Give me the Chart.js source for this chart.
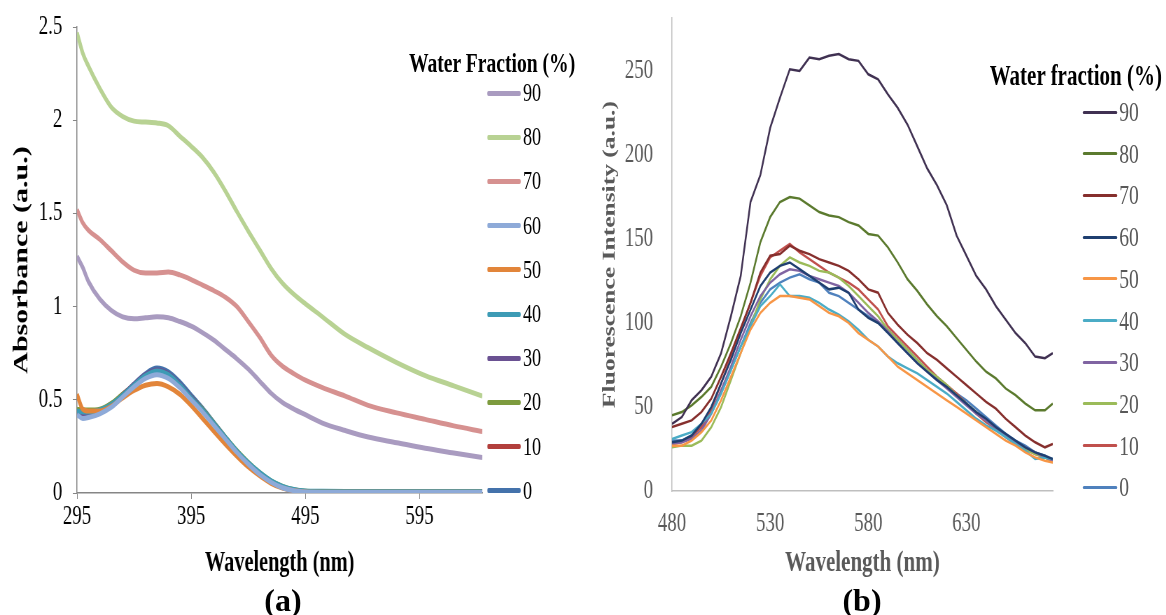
<!DOCTYPE html>
<html lang="en">
<head>
    <meta charset="UTF-8">
    <title>Absorbance and Fluorescence vs Water Fraction</title>
    <script src="https://cdn.jsdelivr.net/npm/chart.js"></script>
    <style>
        body {
            margin: 0;
            padding: 0;
            background: #fff;
            overflow: hidden;
            font-family: "Liberation Serif", "Times New Roman", serif;
        }
        /* the source figure is horizontally squeezed, so the whole chart block is too */
        #wrap {
            position: absolute;
            left: 0;
            top: 0;
            width: 1666px;
            height: 615px;
            transform: scaleX(0.7);
            transform-origin: 0 0;
        }
        canvas { position: absolute; top: 0; }
        #absChart { left: 0; }
        #flChart { left: 856px; }
        .legend-title {
            position: absolute;
            font-weight: bold;
            color: #000;
            white-space: nowrap;
            transform: translate(-50%, -50%);
        }
        .legend-item {
            position: absolute;
            height: 30px;
            display: flex;
            align-items: center;
            white-space: nowrap;
        }
        .legend-item span.line { display: inline-block; border-radius: 2px; }
        .tag {
            position: absolute;
            top: 600px;
            font-weight: bold;
            font-size: 32px;
            color: #000;
            transform: translate(-50%, -50%);
        }
    </style>
</head>
<body>
    <div id="wrap">
        <canvas id="absChart" width="700" height="615"></canvas>
        <canvas id="flChart" width="660" height="615"></canvas>
        <div id="absLegend"></div>
        <div id="flLegend"></div>
    </div>
    <div class="tag" style="left:283px">(a)</div>
    <div class="tag" style="left:862px">(b)</div>

    <script>
        const FONT = '"Liberation Serif", "Times New Roman", serif';

        // ---- panel (a): absorbance ----
        const absLabels = ["90", "80", "70", "60", "50", "40", "30", "20", "10", "0"];
        const absColors = ["#a99bc0", "#b8d293", "#d69190", "#8eaad8", "#e2853a", "#3d9bb5", "#6a5192", "#7d9b3e", "#b23f3c", "#4472ab"];
        const absXTicks = [295, 395, 495, 595];
        const absYTicks = [0, 0.5, 1, 1.5, 2, 2.5];
        const absWave = [295, 300, 305, 315, 325, 335, 345, 355, 365, 375, 385, 395, 405, 415, 425, 435, 445, 455, 465, 475, 485, 495, 510, 530, 550, 575, 600, 625, 650];

        const abs90 = [1.27, 1.21, 1.135, 1.04, 0.98, 0.945, 0.935, 0.94, 0.945, 0.94, 0.92, 0.895, 0.86, 0.82, 0.77, 0.72, 0.665, 0.6, 0.535, 0.485, 0.45, 0.42, 0.375, 0.335, 0.30, 0.27, 0.24, 0.215, 0.19];
        const abs80 = [2.47, 2.36, 2.29, 2.17, 2.07, 2.02, 1.995, 1.99, 1.985, 1.97, 1.915, 1.86, 1.80, 1.72, 1.62, 1.51, 1.405, 1.305, 1.205, 1.125, 1.065, 1.015, 0.945, 0.85, 0.78, 0.70, 0.63, 0.575, 0.52];
        const abs70 = [1.52, 1.45, 1.41, 1.36, 1.30, 1.24, 1.195, 1.18, 1.18, 1.185, 1.17, 1.145, 1.115, 1.085, 1.05, 1.0, 0.92, 0.835, 0.74, 0.68, 0.64, 0.605, 0.565, 0.52, 0.47, 0.43, 0.395, 0.36, 0.33];
        const abs60 = [0.42, 0.40, 0.405, 0.425, 0.46, 0.515, 0.57, 0.615, 0.635, 0.615, 0.565, 0.50, 0.435, 0.362, 0.29, 0.218, 0.155, 0.10, 0.058, 0.028, 0.012, 0.005, 0.003, 0.003, 0.003, 0.003, 0.003, 0.003, 0.003];
        const abs50 = [0.53, 0.45, 0.44, 0.44, 0.465, 0.51, 0.55, 0.578, 0.588, 0.57, 0.53, 0.47, 0.40, 0.33, 0.262, 0.198, 0.14, 0.092, 0.052, 0.026, 0.012, 0.006, 0.004, 0.004, 0.004, 0.004, 0.004, 0.004, 0.004];
        const abs40 = [0.44, 0.435, 0.435, 0.445, 0.475, 0.525, 0.58, 0.63, 0.655, 0.635, 0.58, 0.51, 0.445, 0.372, 0.298, 0.226, 0.163, 0.11, 0.066, 0.036, 0.019, 0.011, 0.009, 0.008, 0.008, 0.008, 0.008, 0.008, 0.008];
        const abs30 = [0.43, 0.42, 0.42, 0.435, 0.47, 0.525, 0.585, 0.635, 0.66, 0.64, 0.585, 0.515, 0.445, 0.37, 0.295, 0.222, 0.158, 0.104, 0.06, 0.03, 0.013, 0.006, 0.004, 0.003, 0.003, 0.003, 0.003, 0.003, 0.003];
        const abs20 = [0.45, 0.445, 0.445, 0.45, 0.48, 0.53, 0.58, 0.625, 0.65, 0.63, 0.58, 0.515, 0.45, 0.375, 0.30, 0.228, 0.165, 0.11, 0.065, 0.035, 0.018, 0.01, 0.008, 0.007, 0.007, 0.007, 0.007, 0.007, 0.007];
        const abs10 = [0.44, 0.43, 0.43, 0.44, 0.475, 0.53, 0.58, 0.63, 0.655, 0.635, 0.58, 0.51, 0.445, 0.37, 0.295, 0.22, 0.155, 0.10, 0.058, 0.03, 0.014, 0.008, 0.006, 0.006, 0.006, 0.006, 0.006, 0.006, 0.006];
        const abs0 = [0.44, 0.43, 0.43, 0.44, 0.48, 0.52, 0.585, 0.64, 0.67, 0.65, 0.595, 0.525, 0.455, 0.378, 0.30, 0.225, 0.16, 0.105, 0.06, 0.03, 0.013, 0.006, 0.003, 0.002, 0.002, 0.002, 0.002, 0.002, 0.002];
        const absSeries = [abs90, abs80, abs70, abs60, abs50, abs40, abs30, abs20, abs10, abs0];

        // ---- panel (b): fluorescence ----
        const flLabels = ["90", "80", "70", "60", "50", "40", "30", "20", "10", "0"];
        const flColors = ["#403152", "#5b7a2e", "#862f2d", "#1f3f70", "#f79646", "#4bacc6", "#8064a2", "#9bbb59", "#c0504d", "#4f81bd"];
        const flXTicks = [480, 530, 580, 630];
        const flYTicks = [0, 50, 100, 150, 200, 250];
        const flWave = [480, 485, 490, 495, 500, 505, 510, 515, 520, 525, 530, 535, 540, 545, 550, 555, 560, 565, 570, 575, 580, 585, 590, 595, 600, 605, 610, 615, 620, 625, 630, 635, 640, 645, 650, 655, 660, 665, 670, 674];

        const fl90 = [40, 44, 54, 60, 68, 82, 104, 128, 172, 188, 216, 234, 251, 250, 258, 257, 259, 260, 257, 256, 248, 245, 236, 228, 218, 205, 192, 182, 170, 152, 140, 128, 120, 110, 102, 94, 88, 80, 79, 82];
        const fl80 = [45, 47, 51, 56, 62, 74, 88, 104, 124, 148, 163, 172, 175, 174, 170, 166, 164, 163, 160, 158, 153, 152, 145, 136, 126, 119, 111, 104, 98, 91, 84, 77, 71, 67, 61, 57, 52, 48, 48, 52];
        const fl70 = [38, 40, 42, 47, 55, 68, 82, 97, 112, 130, 140, 141, 146, 143, 141, 138, 136, 134, 131, 126, 120, 118, 106, 99, 93, 88, 82, 78, 73, 68, 63, 58, 53, 49, 43, 38, 33, 29, 26, 28];
        const fl60 = [29, 30, 33, 40, 50, 64, 78, 94, 108, 122, 130, 134, 136, 132, 128, 124, 120, 121, 118, 108, 103, 100, 94, 88, 82, 76, 71, 66, 62, 57, 52, 47, 43, 38, 34, 30, 26, 23, 21, 19];
        const fl50 = [27, 27, 30, 35, 42, 54, 68, 82, 96, 106, 112, 116, 116, 115, 114, 110, 106, 104, 100, 94, 90, 86, 80, 74, 70, 66, 62, 58, 54, 50, 46, 42, 38, 34, 30, 27, 23, 20, 18, 17];
        const fl40 = [31, 33, 35, 40, 46, 58, 72, 86, 98, 110, 116, 123, 116, 116, 115, 112, 108, 105, 101, 96, 90, 86, 80, 76, 73, 70, 66, 62, 58, 53, 48, 43, 39, 36, 32, 28, 24, 19, 20, 19];
        const fl30 = [28, 29, 31, 36, 46, 60, 74, 90, 104, 116, 124, 129, 132, 131, 128, 126, 124, 122, 118, 112, 106, 101, 95, 88, 82, 76, 71, 66, 61, 56, 51, 46, 42, 37, 33, 29, 26, 23, 20, 18];
        const fl20 = [26, 27, 27, 30, 38, 50, 66, 82, 98, 114, 126, 134, 139, 136, 134, 131, 130, 127, 122, 116, 110, 104, 96, 90, 84, 78, 72, 68, 63, 57, 52, 47, 42, 37, 33, 29, 25, 22, 20, 17];
        const fl10 = [28, 29, 32, 38, 48, 64, 80, 96, 112, 128, 139, 143, 147, 142, 138, 134, 130, 127, 124, 120, 114, 108, 98, 92, 86, 80, 74, 68, 63, 58, 52, 46, 41, 37, 32, 28, 25, 22, 20, 18];
        const fl0 = [30, 30, 33, 38, 46, 58, 72, 86, 100, 112, 120, 124, 127, 129, 126, 124, 118, 116, 112, 108, 104, 100, 96, 90, 84, 78, 72, 67, 62, 58, 54, 49, 44, 39, 34, 30, 27, 23, 21, 18];
        const flSeries = [fl90, fl80, fl70, fl60, fl50, fl40, fl30, fl20, fl10, fl0];

        function makeDatasets(series, wave, labels, colors, width, smooth) {
            return series.map((vals, i) => ({
                label: labels[i],
                data: vals.map((v, j) => ({ x: wave[j], y: v })),
                borderColor: colors[i],
                backgroundColor: colors[i],
                borderWidth: width,
                pointRadius: 0,
                cubicInterpolationMode: smooth ? "monotone" : "default",
                tension: 0,
                fill: false
            }));
        }

        function fixedTicks(list) {
            return scale => { scale.ticks = list.map(v => ({ value: v })); };
        }

        // y scale box: fixed width, and no extra top/bottom padding from tick padding
        function fitY(width) {
            return s => { s.width = width; s.paddingTop = 0; s.paddingBottom = 0; };
        }

        // Panel (a)
        new Chart(document.getElementById("absChart").getContext("2d"), {
            type: "line",
            data: { datasets: makeDatasets(absSeries, absWave, absLabels, absColors, 5, true) },
            options: {
                responsive: false,
                animation: false,
                layout: { padding: { left: 13, right: 11, top: 27, bottom: 34 } },
                plugins: { legend: { display: false }, tooltip: { enabled: false } },
                scales: {
                    x: {
                        type: "linear",
                        min: 295,
                        max: 650,
                        afterBuildTicks: fixedTicks(absXTicks),
                        afterFit: s => { s.height = 88; },
                        grid: { drawOnChartArea: false, drawTicks: true, tickLength: 6, color: "#868686" },
                        border: { color: "#868686", width: 1.5 },
                        ticks: { font: { family: FONT, size: 27 }, color: "#000", padding: 2, maxRotation: 0, autoSkip: false },
                        title: { display: true, text: "Wavelength (nm)", font: { family: FONT, size: 29, weight: "bold" }, color: "#000", padding: 0 }
                    },
                    y: {
                        min: 0,
                        max: 2.5,
                        afterBuildTicks: fixedTicks(absYTicks),
                        afterFit: fitY(97),
                        grid: { drawOnChartArea: false, drawTicks: true, tickLength: 6, color: "#868686" },
                        border: { color: "#868686", width: 1.5 },
                        ticks: { font: { family: FONT, size: 27 }, color: "#000", padding: 15, callback: v => String(v) },
                        title: { display: true, text: "Absorbance (a.u.)", font: { family: FONT, size: 30, weight: "bold" }, color: "#000", padding: 0 }
                    }
                }
            }
        });

        // Panel (b)
        new Chart(document.getElementById("flChart").getContext("2d"), {
            type: "line",
            data: { datasets: makeDatasets(flSeries, flWave, flLabels, flColors, 2.5, false) },
            options: {
                responsive: false,
                animation: false,
                layout: { padding: { left: 0, right: 12, top: 18, bottom: 34 } },
                plugins: { legend: { display: false }, tooltip: { enabled: false } },
                scales: {
                    x: {
                        type: "linear",
                        min: 480,
                        max: 674,
                        afterBuildTicks: fixedTicks(flXTicks),
                        afterFit: s => { s.height = 90; },
                        grid: { drawOnChartArea: false, drawTicks: false },
                        border: { color: "#bfbfbf", width: 1.5 },
                        ticks: { font: { family: FONT, size: 27 }, color: "#595959", padding: 17, maxRotation: 0, autoSkip: false },
                        title: { display: true, text: "Wavelength (nm)", font: { family: FONT, size: 30, weight: "bold" }, color: "#595959", padding: 0 }
                    },
                    y: {
                        min: 0,
                        max: 281.5,
                        afterBuildTicks: fixedTicks(flYTicks),
                        afterFit: fitY(104),
                        grid: { drawOnChartArea: false, drawTicks: false },
                        border: { color: "#bfbfbf", width: 1.5 },
                        ticks: { font: { family: FONT, size: 27 }, color: "#595959", padding: 27, callback: v => String(v) },
                        title: { display: true, text: "Fluorescence Intensity (a.u.)", font: { family: FONT, size: 25.5, weight: "bold" }, color: "#595959", padding: 0 }
                    }
                }
            }
        });

        // HTML legends (vertical list with a title, like the source)
        function buildLegend(el, title, titleX, titleY, titleSize, labels, colors, lineX, lineW, lineH, textSize, textColor, firstY, stepY) {
            const t = document.createElement("div");
            t.className = "legend-title";
            t.textContent = title;
            t.style.left = titleX + "px";
            t.style.top = titleY + "px";
            t.style.fontSize = titleSize + "px";
            el.appendChild(t);
            labels.forEach((lab, i) => {
                const item = document.createElement("div");
                item.className = "legend-item";
                item.style.left = lineX + "px";
                item.style.top = (firstY + stepY * i - 15) + "px";
                const line = document.createElement("span");
                line.className = "line";
                line.style.width = lineW + "px";
                line.style.height = lineH + "px";
                line.style.background = colors[i];
                const txt = document.createElement("span");
                txt.textContent = lab;
                txt.style.fontSize = textSize + "px";
                txt.style.color = textColor;
                txt.style.marginLeft = "3px";
                item.appendChild(line);
                item.appendChild(txt);
                el.appendChild(item);
            });
        }

        buildLegend(document.getElementById("absLegend"), "Water Fraction (%)", 703, 63, 28,
            absLabels, absColors, 696, 48, 5, 26, "#000", 93, 44.2);
        buildLegend(document.getElementById("flLegend"), "Water fraction (%)", 1537, 75, 30,
            flLabels, flColors, 1547, 49, 3, 28, "#595959", 112, 41.7);
    </script>
</body>
</html>
